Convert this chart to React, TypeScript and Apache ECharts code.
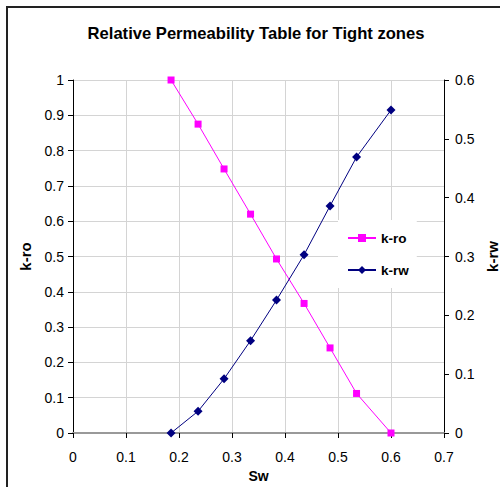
import React, { useEffect, useRef } from "react";
import * as echarts from "echarts";

const sw = [0.185, 0.236, 0.285, 0.335, 0.384, 0.436, 0.485, 0.535, 0.6];
const kro = [1, 0.875, 0.748, 0.62, 0.493, 0.367, 0.241, 0.112, 0];
const krw = [0, 0.037, 0.092, 0.157, 0.226, 0.303, 0.386, 0.469, 0.549];

const FONT = "'Liberation Sans', Arial, Helvetica, sans-serif";

export default function App() {
  const ref = useRef<HTMLDivElement>(null);
  useEffect(() => {
    if (!ref.current) return;
    const chart = echarts.init(ref.current, undefined, { renderer: "svg" });
    const labelStyle = { color: "#000", fontSize: 14, fontFamily: FONT };
    chart.setOption({
      animation: false,
      backgroundColor: "#fff",
      textStyle: { fontFamily: FONT },
      graphic: [
        {
          type: "rect",
          shape: { x: 7, y: 7, width: 700, height: 700 },
          style: { fill: "none", stroke: "#222", lineWidth: 2 },
          silent: true,
        },
        {
          type: "text",
          x: 256,
          y: 33,
          style: {
            text: "Relative Permeability Table for Tight zones",
            align: "center",
            verticalAlign: "middle",
            font: `bold 16.6px ${FONT}`,
            fill: "#000",
          },
        },
      ],
      grid: {
        left: 73,
        right: 56,
        top: 80,
        bottom: 54,
        containLabel: false,
        outerBoundsMode: "none",
      },
      legend: {
        orient: "vertical",
        left: 338,
        top: 220,
        padding: [11, 8, 11, 9],
        backgroundColor: "#fff",
        itemWidth: 28,
        itemHeight: 10,
        itemGap: 18,
        textStyle: { color: "#000", fontSize: 13.5, fontWeight: "bold", fontFamily: FONT },
        data: ["k-ro", "k-rw"],
      },
      xAxis: [
        {
          type: "value",
          min: 0,
          max: 0.7,
          interval: 0.1,
          name: "Sw",
          nameLocation: "middle",
          nameGap: 35,
          nameTextStyle: { color: "#000", fontSize: 14, fontWeight: "bold", fontFamily: FONT },
          axisLine: { show: true, onZero: false, lineStyle: { color: "#000", width: 1 } },
          axisTick: { show: true, length: 5, lineStyle: { color: "#000" } },
          axisLabel: { ...labelStyle, margin: 17 },
          splitLine: { show: true, lineStyle: { color: "#d4d4d4", width: 1 } },
        },
        {
          type: "value",
          position: "top",
          min: 0,
          max: 0.7,
          axisLine: { show: true, lineStyle: { color: "#999", width: 2 } },
          axisTick: { show: false },
          axisLabel: { show: false },
          splitLine: { show: false },
        },
      ],
      yAxis: [
        {
          type: "value",
          position: "left",
          min: 0,
          max: 1,
          interval: 0.1,
          name: "k-ro",
          nameLocation: "middle",
          nameRotate: 90,
          nameGap: 40,
          nameTextStyle: { color: "#000", fontSize: 15, fontWeight: "bold", fontFamily: FONT },
          axisLine: { show: true, onZero: false, lineStyle: { color: "#000", width: 1 } },
          axisTick: { show: true, length: 5, lineStyle: { color: "#000" } },
          axisLabel: { ...labelStyle, margin: 9 },
          splitLine: { show: true, lineStyle: { color: "#d4d4d4", width: 1 } },
        },
        {
          type: "value",
          position: "right",
          min: 0,
          max: 0.6,
          interval: 0.1,
          name: "k-rw",
          nameLocation: "middle",
          nameRotate: 90,
          nameGap: 37,
          nameTextStyle: { color: "#000", fontSize: 15, fontWeight: "bold", fontFamily: FONT },
          axisLine: { show: true, onZero: false, lineStyle: { color: "#000", width: 1 } },
          axisTick: { show: true, length: 5, lineStyle: { color: "#000" } },
          axisLabel: { ...labelStyle, margin: 11 },
          splitLine: { show: false },
        },
      ],
      series: [
        {
          name: "k-ro",
          type: "line",
          xAxisIndex: 0,
          yAxisIndex: 0,
          data: sw.map((x, i) => [x, kro[i]]),
          symbol: "rect",
          symbolSize: 7,
          lineStyle: { color: "#ff00ff", width: 1 },
          itemStyle: { color: "#ff00ff" },
        },
        {
          name: "k-rw",
          type: "line",
          xAxisIndex: 0,
          yAxisIndex: 1,
          data: sw.map((x, i) => [x, krw[i]]),
          symbol: "diamond",
          symbolSize: 9,
          lineStyle: { color: "#000080", width: 1 },
          itemStyle: { color: "#000080" },
        },
      ],
    });
    return () => chart.dispose();
  }, []);
  return (
    <div
      ref={ref}
      style={{ position: "fixed", left: 0, top: 0, width: 500, height: 487 }}
    />
  );
}
